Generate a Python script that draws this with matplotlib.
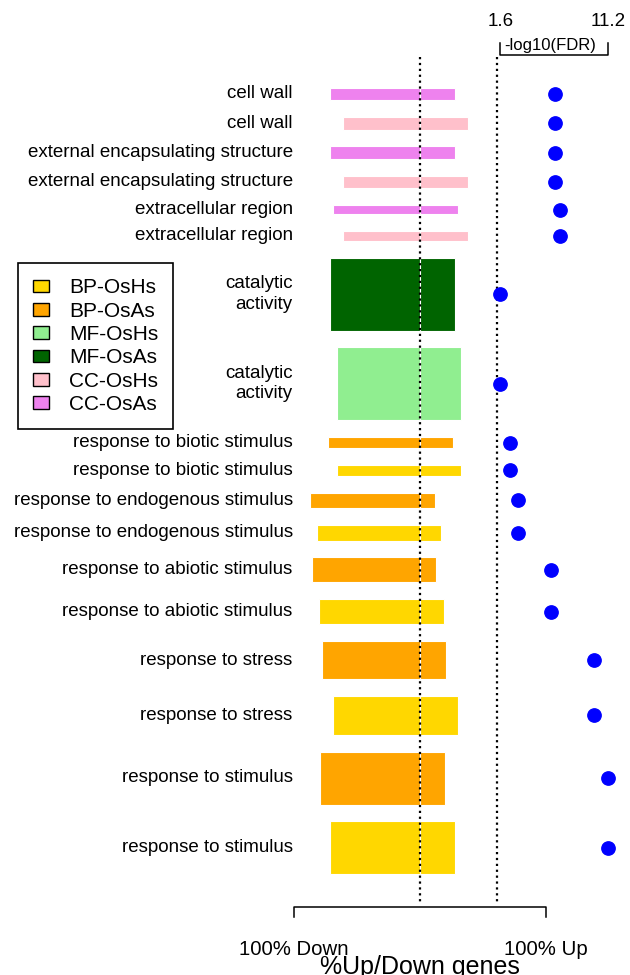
import numpy as np
import matplotlib.pyplot as plt
from matplotlib.patches import Patch

plt.rcParams['font.family'] = ['Liberation Sans', 'DejaVu Sans']

# GO terms, top to bottom
terms = ['cell wall', 'cell wall',
         'external encapsulating structure', 'external encapsulating structure',
         'extracellular region', 'extracellular region',
         'catalytic\nactivity', 'catalytic\nactivity',
         'response to biotic stimulus', 'response to biotic stimulus',
         'response to endogenous stimulus', 'response to endogenous stimulus',
         'response to abiotic stimulus', 'response to abiotic stimulus',
         'response to stress', 'response to stress',
         'response to stimulus', 'response to stimulus']
groups = ['CC-OsAs', 'CC-OsHs', 'CC-OsAs', 'CC-OsHs', 'CC-OsAs', 'CC-OsHs',
          'MF-OsAs', 'MF-OsHs',
          'BP-OsAs', 'BP-OsHs', 'BP-OsAs', 'BP-OsHs', 'BP-OsAs', 'BP-OsHs',
          'BP-OsAs', 'BP-OsHs', 'BP-OsAs', 'BP-OsHs']
pct_down = [71, 61, 71, 61, 69, 61, 71, 66, 73, 66, 87, 82, 86, 80, 78, 69, 79, 71]
pct_up = [28, 38, 28, 38, 30, 38, 28, 33, 26, 33, 12, 17, 13, 19, 21, 30, 20, 28]
neg_log_fdr = [6.5, 6.5, 6.5, 6.5, 6.9, 6.9, 1.6, 1.6, 2.5, 2.5,
               3.2, 3.2, 6.1, 6.1, 10.0, 10.0, 11.2, 11.2]
# bar thickness per term (relative term size)
term_weight = [12.5, 12.5, 12.5, 12.5, 9.5, 9.5, 73, 73, 11, 11,
               15.5, 15.5, 25, 25, 38.5, 38.5, 53, 53]

legend_groups = ['BP-OsHs', 'BP-OsAs', 'MF-OsHs', 'MF-OsAs', 'CC-OsHs', 'CC-OsAs']
group_colors = {'BP-OsHs': 'gold', 'BP-OsAs': 'orange',
                'MF-OsHs': 'lightgreen', 'MF-OsAs': 'darkgreen',
                'CC-OsHs': 'pink', 'CC-OsAs': 'violet'}
fdr_cut = -np.log10(0.05)

W, H = 630, 975
fig = plt.figure(figsize=(W / 100, H / 100), dpi=100)
ax = fig.add_axes([0, 0, 1, 1])

# x in %: -100 -> px 294, +100 -> px 545.7
ppu = (545.7 - 294) / 200
ax.set_xlim(-100 - 294 / ppu, 100 + (W - 545.7) / ppu)
ax.set_ylim(H, 0)
ax.axis('off')

ax2 = ax.twiny()
fpu = (607.7 - 500.3) / (11.2 - 1.6)
ax2.set_xlim(1.6 - 500.3 / fpu, 11.2 + (W - 607.7) / fpu)
ax2.set_ylim(H, 0)
ax2.axis('off')

# stack bars with a fixed gap, thickness from term_weight
gap = 16.8
h = np.array(term_weight)
tops = 87.7 + np.concatenate([[0], np.cumsum(h + gap)[:-1]])
yc = tops + h / 2
cols = [group_colors[g] for g in groups]

ax.barh(yc, -np.array(pct_down), height=h, color=cols, edgecolor='white', linewidth=0.8)
ax.barh(yc, pct_up, height=h, color=cols, edgecolor='white', linewidth=0.8)

for y, t in zip(yc, terms):
    ax.text(-101, y, t, ha='right', va='center', fontsize=13.5, linespacing=1.25)

ax.vlines(0, 57, 905, colors='black', linestyles=':', linewidth=1.6, zorder=5)
ax2.vlines(fdr_cut, 57, 905, colors='black', linestyles=':', linewidth=1.6, zorder=5)

ax2.plot(neg_log_fdr, yc, 'o', color='blue', markersize=9.6, zorder=6)

# top scale for -log10(FDR)
ax2.plot([1.6, 1.6, 11.2, 11.2], [42.7, 54.5, 54.5, 42.7], color='black', lw=1.1, clip_on=False)
ax2.text(1.6, 21, '1.6', ha='center', va='center', fontsize=13.5)
ax2.text(11.2, 21, '11.2', ha='center', va='center', fontsize=13.5)
ax2.text(6.1, 45.5, '-log10(FDR)', ha='center', va='center', fontsize=12)

# bottom scale
ax.plot([-100, -100, 100, 100], [917.3, 906.7, 906.7, 917.3], color='black', lw=1.1, clip_on=False)
ax.text(-100, 955, '100% Down', ha='center', va='baseline', fontsize=14.7)
ax.text(100, 955, '100% Up', ha='center', va='baseline', fontsize=14.7)
ax.text(0, 974, '%Up/Down genes', ha='center', va='baseline', fontsize=18)

handles = [Patch(facecolor=group_colors[g], edgecolor='black', label=g) for g in legend_groups]
leg = ax.legend(handles=handles, loc='upper left', bbox_to_anchor=(17.7 / W, 1 - 263.3 / H),
                bbox_transform=fig.transFigure, borderaxespad=0, fontsize=15,
                handlelength=0.8, handleheight=0.56, handletextpad=0.95,
                borderpad=0.72, labelspacing=0.21, fancybox=False, framealpha=1,
                edgecolor='black')
leg.get_frame().set_linewidth(1.2)

fig.savefig('out.png', dpi=100)
